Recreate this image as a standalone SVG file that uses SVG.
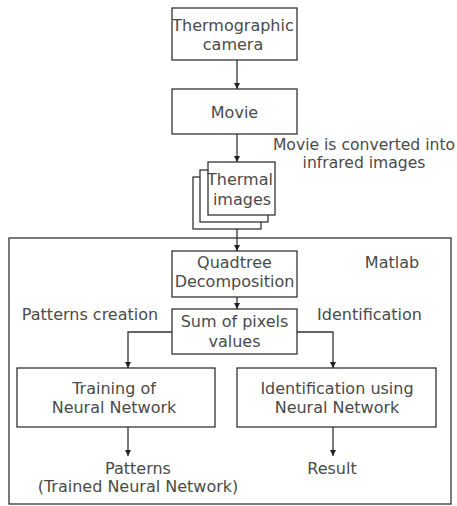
<svg xmlns="http://www.w3.org/2000/svg" width="457" height="506" viewBox="0 0 457 506">
<defs>
<marker id="ah" markerWidth="8" markerHeight="8" refX="6" refY="3.5" orient="auto" markerUnits="userSpaceOnUse">
<path d="M0,0.5 L6,3.5 L0,6.5 Z" fill="#222"/>
</marker>
<style>
.box{fill:#fff;stroke:#333;stroke-width:1.3}
.t{font-family:"DejaVu Sans",Verdana,sans-serif;font-size:16px;fill:#4a4a4a;text-anchor:middle}
.ln{fill:none;stroke:#333;stroke-width:1.3}
</style>
</defs>
<rect width="457" height="506" fill="#fff"/>
<g id="matlab">
<rect class="box" x="9" y="238" width="442" height="266"/>
<text class="t" x="392" y="268">Matlab</text>
</g>
<g id="camera">
<rect class="box" x="172" y="8" width="125" height="52"/>
<text class="t" x="233" y="31">Thermographic</text>
<text class="t" x="233" y="50">camera</text>
</g>
<g id="movie">
<rect class="box" x="172" y="89" width="125" height="45"/>
<text class="t" x="234.5" y="118">Movie</text>
</g>
<g id="note">
<text class="t" x="364" y="150" style="font-size:15.6px">Movie is converted into</text>
<text class="t" x="364" y="168" style="font-size:15.6px">infrared images</text>
</g>
<g id="thermal">
<rect class="box" x="193" y="177" width="68" height="52"/>
<rect class="box" x="200" y="170" width="68" height="52"/>
<rect class="box" x="208" y="162" width="67" height="53"/>
<text class="t" x="240" y="185">Thermal</text>
<text class="t" x="242" y="205">images</text>
</g>
<g id="quadtree">
<rect class="box" x="172" y="251" width="125" height="46"/>
<text class="t" x="234.5" y="268">Quadtree</text>
<text class="t" x="234.5" y="287">Decomposition</text>
</g>
<g id="sum">
<rect class="box" x="172" y="309" width="125" height="45"/>
<text class="t" x="234.5" y="327">Sum of pixels</text>
<text class="t" x="234.5" y="347">values</text>
</g>
<g id="labels">
<text class="t" x="90" y="320">Patterns creation</text>
<text class="t" x="369.5" y="320">Identification</text>
</g>
<g id="training">
<rect class="box" x="17" y="368" width="198" height="59"/>
<text class="t" x="114" y="394">Training of</text>
<text class="t" x="114" y="413">Neural Network</text>
</g>
<g id="identification">
<rect class="box" x="237" y="368" width="199" height="59"/>
<text class="t" x="337" y="394">Identification using</text>
<text class="t" x="337" y="413">Neural Network</text>
</g>
<g id="patterns">
<text class="t" x="138" y="474">Patterns</text>
<text class="t" x="138" y="492">(Trained Neural Network)</text>
</g>
<g id="result">
<text class="t" x="332" y="474">Result</text>
</g>
<g id="connectors">
<line class="ln" x1="237" y1="60" x2="237" y2="89" marker-end="url(#ah)"/>
<line class="ln" x1="237" y1="134" x2="237" y2="162" marker-end="url(#ah)"/>
<line class="ln" x1="237" y1="229" x2="237" y2="251" marker-end="url(#ah)"/>
<line class="ln" x1="237" y1="297" x2="237" y2="309" marker-end="url(#ah)"/>
<polyline class="ln" points="172,332 128,332 128,368" marker-end="url(#ah)"/>
<polyline class="ln" points="297,332 333,332 333,368" marker-end="url(#ah)"/>
<line class="ln" x1="128" y1="427" x2="128" y2="456" marker-end="url(#ah)"/>
<line class="ln" x1="333" y1="427" x2="333" y2="456" marker-end="url(#ah)"/>
</g>
</svg>
